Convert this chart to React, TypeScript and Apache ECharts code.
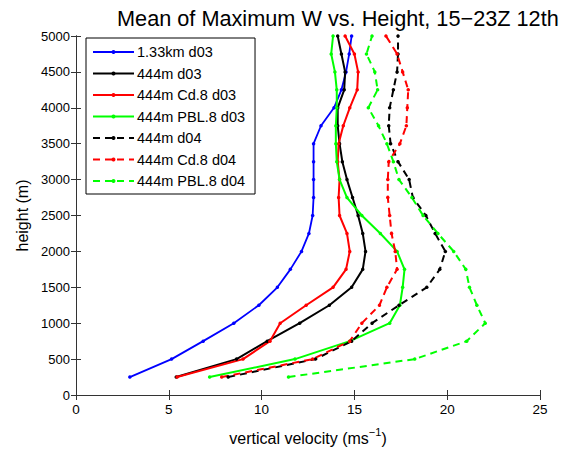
import React, { useEffect, useRef } from "react";
import * as echarts from "echarts";

const heights = [250, 500, 750, 1000, 1250, 1500, 1750, 2000, 2250, 2500, 2750, 3000, 3250, 3500, 3750, 4000, 4250, 4500, 4750, 5000];

const blue133 = [2.9, 5.15, 6.85, 8.5, 9.85, 10.85, 11.55, 12.15, 12.55, 12.75, 12.8, 12.8, 12.8, 12.8, 13.2, 13.9, 14.3, 14.55, 14.72, 14.85];
const black444 = [5.4, 8.65, 10.3, 12.05, 13.65, 14.85, 15.45, 15.6, 15.45, 15.2, 14.9, 14.6, 14.35, 14.2, 14.1, 14.1, 14.45, 14.5, 14.3, 14.1];
const redCd8 = [5.45, 9.0, 10.45, 11.0, 12.4, 13.85, 14.55, 14.75, 14.6, 14.2, 14.15, 14.2, 14.1, 14.15, 14.4, 14.75, 15.15, 15.2, 15.0, 14.5];
const greenPbl8 = [7.2, 11.8, 14.75, 16.9, 17.45, 17.6, 17.7, 17.3, 16.4, 15.4, 14.6, 14.2, 14.05, 14.0, 14.0, 14.05, 14.05, 13.95, 13.75, 13.85];
const blackD04 = [8.2, 12.9, 14.85, 15.95, 17.4, 18.9, 19.6, 19.9, 19.35, 18.85, 18.15, 17.95, 17.35, 16.95, 16.85, 16.9, 17.1, 17.3, 17.35, 17.35];
const redCd8D04 = [7.85, 12.75, 14.75, 15.4, 16.35, 16.75, 17.3, 17.2, 17.0, 16.9, 16.8, 16.8, 16.85, 17.45, 17.8, 17.85, 17.9, 17.6, 17.3, 16.7];
const greenPbl8D04 = [11.45, 18.25, 21.05, 22.05, 21.6, 21.2, 21.0, 20.35, 19.5, 18.7, 18.1, 17.4, 17.1, 16.75, 16.3, 15.75, 16.25, 16.1, 15.65, 15.95];

const seriesNames = ["1.33km d03", "444m d03", "444m Cd.8 d03", "444m PBL.8 d03", "444m d04", "444m Cd.8 d04", "444m PBL.8 d04"];
const seriesValues = [blue133, black444, redCd8, greenPbl8, blackD04, redCd8D04, greenPbl8D04];
const seriesColors = ["#0000ff", "#000000", "#ff0000", "#00ff00", "#000000", "#ff0000", "#00ff00"];
const seriesDashed = [false, false, false, false, true, true, true];

const FONT = "'Liberation Sans', Arial, Helvetica, sans-serif";

export default function App() {
  const ref = useRef<HTMLDivElement>(null);
  useEffect(() => {
    if (!ref.current) return;
    const chart = echarts.init(ref.current, null, { renderer: "svg" });
    const axisLine = { show: true, lineStyle: { color: "#333", width: 1 } };
    const series = seriesNames.map((name, i) => ({
      name,
      type: "line",
      xAxisIndex: 0,
      yAxisIndex: 0,
      data: seriesValues[i].map((v, k) => [v, heights[k]]),
      symbol: "circle",
      symbolSize: 3.5,
      showSymbol: true,
      color: seriesColors[i],
      itemStyle: { color: seriesColors[i] },
      lineStyle: {
        color: seriesColors[i],
        width: i === 0 ? 1.8 : 2,
        type: seriesDashed[i] ? [7, 5] : "solid",
      },
      z: 3,
    }));
    chart.setOption({
      animation: false,
      backgroundColor: "#fff",
      textStyle: { fontFamily: FONT },
      title: {
        text: "Mean of Maximum W vs. Height, 15\u221223Z 12th",
        left: 112,
        top: 2,
        textStyle: { fontFamily: FONT, fontSize: 21.7, fontWeight: "normal", color: "#000" },
      },
      grid: { left: 76, right: 43, top: 36, bottom: 56, show: false },
      legend: {
        orient: "vertical",
        left: 86,
        top: 38,
        data: seriesNames,
        itemWidth: 41,
        itemHeight: 5,
        itemGap: 5.5,
        padding: [6, 10, 5, 6],
        borderColor: "#000",
        borderWidth: 1,
        backgroundColor: "#fff",
        textStyle: { fontFamily: FONT, fontSize: 14.5, lineHeight: 16, color: "#000", padding: [0, 0, 0, -2] },
      },
      xAxis: [
        {
          type: "value",
          min: 0,
          max: 25,
          interval: 5,
          position: "bottom",
          name: "{a|vertical velocity (ms}{s|\u22121}{a|)}",
          nameLocation: "middle",
          nameGap: 31,
          nameTextStyle: {
            rich: {
              a: { fontFamily: FONT, fontSize: 16, color: "#000", lineHeight: 20, verticalAlign: "bottom" },
              s: { fontFamily: FONT, fontSize: 11, color: "#000", lineHeight: 20, verticalAlign: "top" },
            },
          },
          axisLine,
          axisTick: { show: true, inside: true, length: 5, lineStyle: { color: "#333" } },
          axisLabel: { fontFamily: FONT, fontSize: 13.5, color: "#000", margin: 7 },
          splitLine: { show: false },
        },
        {
          type: "value",
          min: 0,
          max: 25,
          interval: 5,
          position: "top",
          axisLine,
          axisTick: { show: true, inside: true, length: 5, lineStyle: { color: "#333" } },
          axisLabel: { show: false },
          splitLine: { show: false },
        },
      ],
      yAxis: [
        {
          type: "value",
          min: 0,
          max: 5000,
          interval: 500,
          position: "left",
          name: "height (m)",
          nameLocation: "middle",
          nameGap: 46,
          nameTextStyle: { fontFamily: FONT, fontSize: 16, color: "#000" },
          axisLine: { show: true, lineStyle: { color: "#000", width: 1 } },
          axisTick: { show: true, inside: true, length: 5, lineStyle: { color: "#333" } },
          axisLabel: { fontFamily: FONT, fontSize: 13, color: "#000", margin: 6, formatter: (v: number) => String(v) },
          splitLine: { show: false },
        },
        {
          type: "value",
          min: 0,
          max: 5000,
          interval: 500,
          position: "right",
          axisLine,
          axisTick: { show: true, inside: true, length: 5, lineStyle: { color: "#333" } },
          axisLabel: { show: false },
          splitLine: { show: false },
        },
      ],
      series,
    });
    return () => chart.dispose();
  }, []);
  return <div ref={ref} style={{ width: 583, height: 451, position: "absolute", left: 0, top: 0 }} />;
}
